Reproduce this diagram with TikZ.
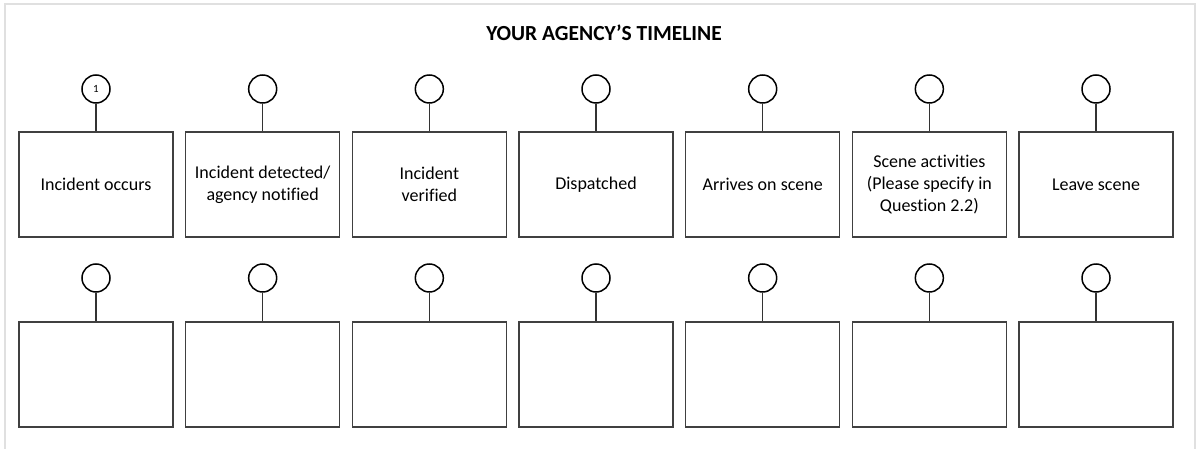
\documentclass[tikz,border=0pt]{standalone}
\usepackage{fontspec}
\setmainfont{Carlito}[Ligatures={NoCommon}]
\begin{document}
\begin{tikzpicture}[x=1pt,y=-1pt,
  stepbox/.style={draw=black!75,line width=1.1pt,minimum width=154pt,minimum height=105pt,inner sep=0pt,align=center,font=\fontsize{18}{22}\selectfont},
  marker/.style={draw=black,line width=1.5pt,circle,minimum size=28pt,inner sep=0pt,font=\fontsize{11}{12}\selectfont},
  stem/.style={draw=black!80,line width=1.1pt}]
\useasboundingbox (0,0) rectangle (1196,449);
\draw[draw=black!12,line width=2pt] (5,449) -- (5,4) -- (1195,4) -- (1195,449);
\node[font=\fontsize{21.5}{24}\selectfont\bfseries] (title) at (604,33) {YOUR AGENCY’S TIMELINE};
\foreach \i/\t in {1/{Incident occurs},2/{Incident detected/\\agency notified},3/{Incident\\verified},4/{Dispatched},5/{Arrives on scene},6/{Scene activities\\(Please specify in\\Question 2.2)},7/{Leave scene}}{
  \pgfmathsetmacro{\xx}{96+(\i-1)*166.67}
  \node[stepbox] (b\i) at (\xx,184.5) {\t};
  \node[marker] (c\i) at (\xx,89) {\ifnum\i=1 1\fi};
  \draw[stem] (c\i) -- (b\i);
  \node[stepbox] (d\i) at (\xx,374.5) {};
  \node[marker] (e\i) at (\xx,278) {};
  \draw[stem] (e\i) -- (d\i);
}
\end{tikzpicture}
\end{document}
